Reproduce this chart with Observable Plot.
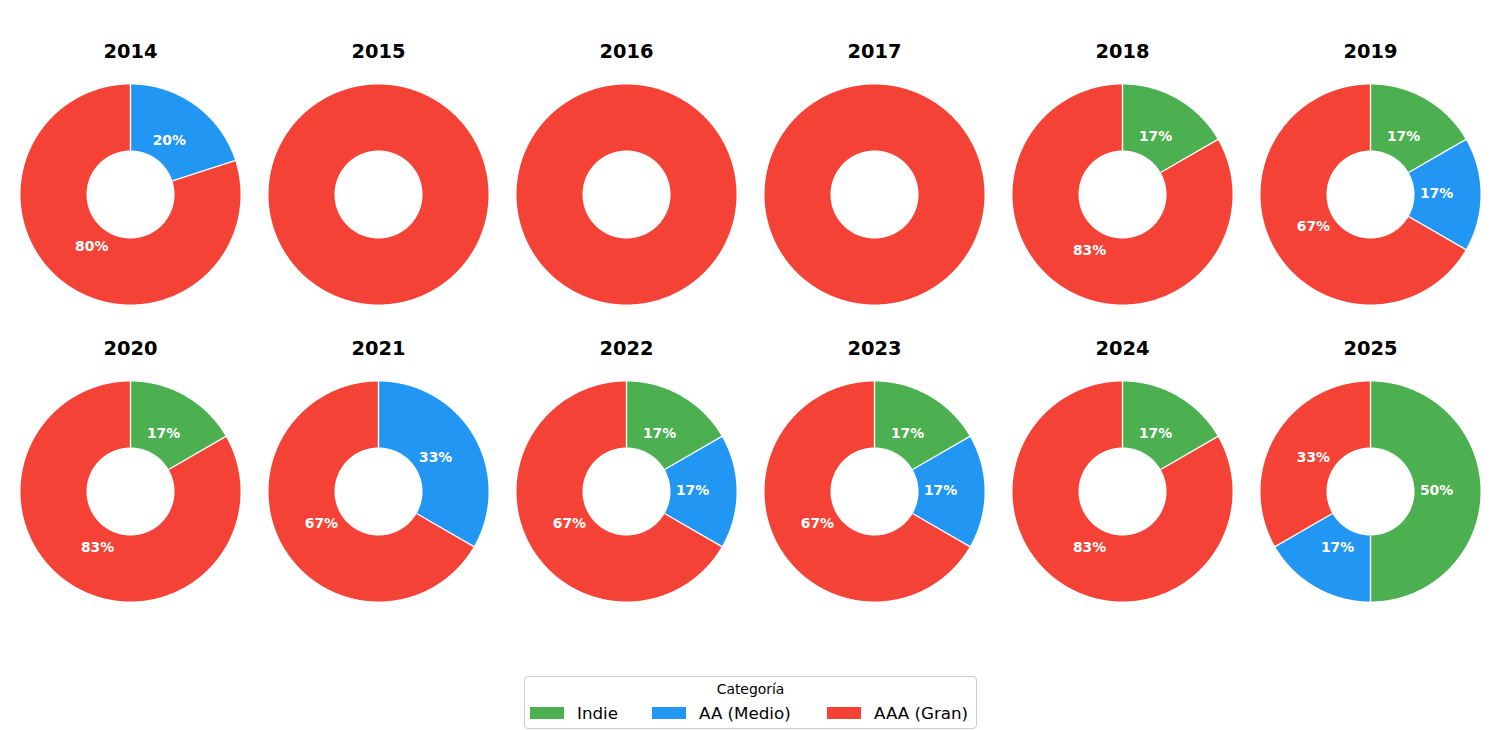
<!DOCTYPE html>
<html>
<head>
<meta charset="utf-8">
<script src="https://cdn.jsdelivr.net/npm/d3@7"></script>
<script src="https://cdn.jsdelivr.net/npm/@observablehq/plot@0.6"></script>
<style>
  html, body { margin: 0; padding: 0; background: #fff; }
  body { width: 1500px; height: 730px; position: relative; overflow: hidden; font-family: "DejaVu Sans", sans-serif; }
  #chart { position: absolute; left: 0; top: 0; }
  #legend { position: absolute; left: 524px; top: 676px; width: 453px; height: 53px; border: 1px solid #cccccc; border-radius: 4px; box-sizing: border-box; background: rgba(255,255,255,0.8); }
  #legend .title { position: absolute; left: 0; width: 100%; top: 3px; text-align: center; font-size: 13.9px; color: #000; line-height: 18px; }
  #legend .sw { position: absolute; width: 34px; height: 12px; top: 30px; }
  #legend .lab { position: absolute; top: 25px; font-size: 16.7px; line-height: 22px; color: #000; white-space: nowrap; }
</style>
</head>
<body>
<div id="chart"></div>
<div id="legend"></div>
<script>
// ---- data ----
const years = [2014, 2015, 2016, 2017, 2018, 2019, 2020, 2021, 2022, 2023, 2024, 2025];
const categories = ["Indie", "AA (Medio)", "AAA (Gran)"];
const colors = ["#4CAF50", "#2196F3", "#F44336"];
const indie = [0, 0, 0, 0, 1, 1, 1, 0, 1, 1, 1, 3];
const aa    = [1, 0, 0, 0, 0, 1, 0, 2, 1, 1, 0, 1];
const aaa   = [4, 1, 1, 1, 5, 4, 5, 4, 4, 4, 5, 2];
const legendTitle = "Categoría";

// ---- derived geometry (from data) ----
const series = [indie, aa, aaa];
const INNER = 0.4, LABEL_R = 0.6;
const pie = d3.pie().sort(null).value(d => d.v).startAngle(0).endAngle(2 * Math.PI);
const wedgePts = [], seps = [], labels = [], titles = [];
years.forEach((yr, i) => {
  const col = i % 6, row = Math.floor(i / 6);
  titles.push({year: String(yr), col, row});
  const rows = categories.map((c, k) => ({cat: c, v: series[k][i]}));
  const total = d3.sum(rows, d => d.v);
  const arcs = pie(rows).filter(a => a.data.v > 0);
  arcs.forEach((a, j) => {
    const key = yr + "-" + a.data.cat;
    const n = Math.max(2, Math.ceil((a.endAngle - a.startAngle) / (Math.PI / 360)));
    for (let s = 0; s <= n; s++) {
      const t = a.startAngle + (a.endAngle - a.startAngle) * s / n;
      wedgePts.push({key, cat: a.data.cat, col, row, x: Math.sin(t), y: Math.cos(t)});
    }
    for (let s = n; s >= 0; s--) {
      const t = a.startAngle + (a.endAngle - a.startAngle) * s / n;
      wedgePts.push({key, cat: a.data.cat, col, row, x: INNER * Math.sin(t), y: INNER * Math.cos(t)});
    }
    const pct = 100 * a.data.v / total;
    if (arcs.length > 1) {
      const t = a.startAngle;
      seps.push({col, row, x1: INNER * Math.sin(t), y1: INNER * Math.cos(t), x2: 1.02 * Math.sin(t), y2: 1.02 * Math.cos(t)});
      const m = (a.startAngle + a.endAngle) / 2;
      labels.push({col, row, x: LABEL_R * Math.sin(m), y: LABEL_R * Math.cos(m), text: Math.round(pct) + "%"});
    }
  });
});

const chart = Plot.plot({
  width: 1500,
  height: 660,
  marginLeft: 20,
  marginRight: 20,
  marginTop: 84,
  marginBottom: 59,
  style: {fontFamily: "DejaVu Sans", background: "white"},
  fx: {domain: d3.range(6), paddingInner: 28 / 248, paddingOuter: 0, round: false, axis: null},
  fy: {domain: [0, 1], paddingInner: 77 / 297, paddingOuter: 0, round: false, axis: null},
  x: {domain: [-1, 1], axis: null},
  y: {domain: [-1, 1], axis: null},
  color: {domain: categories, range: colors},
  marks: [
    Plot.line(wedgePts, {x: "x", y: "y", z: "key", fx: "col", fy: "row", fill: "cat", stroke: "none", curve: "linear"}),
    Plot.link(seps, {x1: "x1", y1: "y1", x2: "x2", y2: "y2", fx: "col", fy: "row", stroke: "white", strokeWidth: 1.4}),
    Plot.text(labels, {x: "x", y: "y", fx: "col", fy: "row", text: "text", fill: "white", fontWeight: "bold", fontSize: 13.9, dy: -1}),
    Plot.text(titles, {fx: "col", fy: "row", text: "year", frameAnchor: "top", lineAnchor: "middle", dy: -33, fontSize: 19.4, fontWeight: "bold", fill: "black"})
  ]
});
document.getElementById("chart").appendChild(chart);

// ---- legend (HTML, below the SVG) ----
const lg = document.getElementById("legend");
const t = document.createElement("div");
t.className = "title"; t.textContent = legendTitle; lg.appendChild(t);
const swLeft = [5, 127, 302];
const labLeft = [52, 174, 349];
categories.forEach((c, k) => {
  const sw = document.createElement("div");
  sw.className = "sw"; sw.style.left = swLeft[k] + "px"; sw.style.background = colors[k];
  lg.appendChild(sw);
  const lb = document.createElement("div");
  lb.className = "lab"; lb.style.left = labLeft[k] + "px"; lb.textContent = c;
  lg.appendChild(lb);
});
</script>
</body>
</html>
